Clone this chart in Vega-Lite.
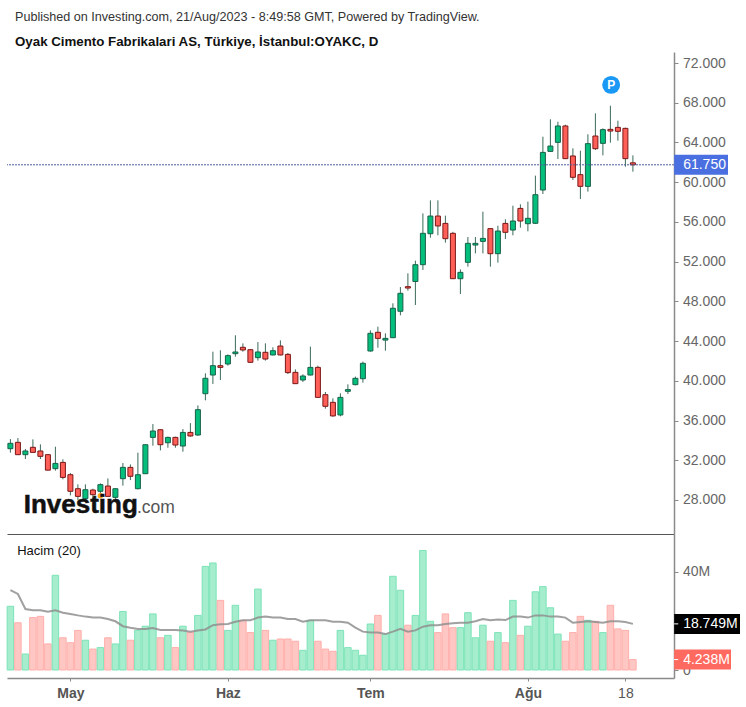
{"$schema":"https://vega.github.io/schema/vega-lite/v6.json","padding":{"left":6,"top":11,"right":5,"bottom":19},"background":"white","bounds":"flush","spacing":0,"config":{"view":{"stroke":null},"font":"Liberation Sans","axis":{"grid":false,"title":null}},
"datasets":{"bars":[
{"n":0,"o":33.16,"h":34.13,"l":32.76,"c":33.7,"v":25.9,"ma":32.5},
{"n":1,"o":33.8,"h":34.23,"l":32.52,"c":32.56,"v":19.2,"ma":30.9},
{"n":2,"o":32.56,"h":33.13,"l":32.12,"c":32.93,"v":6.5,"ma":24.8},
{"n":3,"o":33.3,"h":34.1,"l":32.76,"c":32.79,"v":21.3,"ma":24.3},
{"n":4,"o":32.93,"h":33.6,"l":32.12,"c":32.39,"v":21.8,"ma":24.3},
{"n":5,"o":32.56,"h":32.6,"l":30.98,"c":31,"v":10.6,"ma":23.7},
{"n":6,"o":31.15,"h":33.36,"l":30.95,"c":31.68,"v":38.5,"ma":24.3},
{"n":7,"o":31.78,"h":32.09,"l":30.07,"c":30.27,"v":13.1,"ma":23.3},
{"n":8,"o":30.54,"h":30.71,"l":28.46,"c":28.87,"v":11.1,"ma":22.8},
{"n":9,"o":29.13,"h":29.57,"l":28,"c":28.36,"v":16.1,"ma":22.2},
{"n":10,"o":28.13,"h":29.57,"l":27.9,"c":29.03,"v":12.1,"ma":21.7},
{"n":11,"o":29,"h":29.13,"l":28,"c":28.53,"v":8.5,"ma":21.3},
{"n":12,"o":28.87,"h":29.67,"l":28.5,"c":29.54,"v":9.1,"ma":21.3},
{"n":13,"o":29.4,"h":30.17,"l":28.3,"c":28.36,"v":13.1,"ma":20.7},
{"n":14,"o":28.26,"h":29.17,"l":28.1,"c":29.13,"v":10.6,"ma":19.8},
{"n":15,"o":30.14,"h":31.72,"l":29.44,"c":31.28,"v":23.8,"ma":17.8},
{"n":16,"o":31.28,"h":31.58,"l":30,"c":30.38,"v":12.1,"ma":17.2},
{"n":17,"o":29.13,"h":32.76,"l":29.07,"c":30.54,"v":16.1,"ma":16.7},
{"n":18,"o":30.64,"h":33.6,"l":30.61,"c":33.56,"v":17.8,"ma":16.7},
{"n":19,"o":34.3,"h":35.64,"l":33.46,"c":34.94,"v":22.8,"ma":17.1},
{"n":20,"o":35.07,"h":35.11,"l":32.99,"c":33.56,"v":13.1,"ma":16.3},
{"n":21,"o":33.76,"h":34.37,"l":33.26,"c":34.3,"v":14.1,"ma":16.3},
{"n":22,"o":34.3,"h":34.37,"l":33.26,"c":33.53,"v":9.1,"ma":16.3},
{"n":23,"o":33.43,"h":35.14,"l":32.86,"c":34.8,"v":17.8,"ma":16.1},
{"n":24,"o":34.8,"h":35.74,"l":34.37,"c":34.44,"v":15.2,"ma":15.6},
{"n":25,"o":34.54,"h":37.52,"l":34.44,"c":37.09,"v":22.2,"ma":16.1},
{"n":26,"o":38.7,"h":40.75,"l":38.03,"c":40.25,"v":42.1,"ma":16.5},
{"n":27,"o":40.58,"h":42.93,"l":39.68,"c":41.52,"v":43.5,"ma":18.2},
{"n":28,"o":41.52,"h":43.07,"l":40.08,"c":41.35,"v":28.3,"ma":18.6},
{"n":29,"o":41.69,"h":42.66,"l":41.52,"c":42.53,"v":16.1,"ma":18.7},
{"n":30,"o":42.73,"h":44.58,"l":42.43,"c":42.9,"v":26.3,"ma":19.6},
{"n":31,"o":43.37,"h":43.77,"l":42.93,"c":43.1,"v":20.2,"ma":20.2},
{"n":32,"o":43.13,"h":43.2,"l":41.82,"c":41.86,"v":15.2,"ma":20.2},
{"n":33,"o":42.33,"h":43.9,"l":42.03,"c":42.9,"v":32.9,"ma":21.3},
{"n":34,"o":42.87,"h":43.77,"l":42.03,"c":42.19,"v":16.1,"ma":21.7},
{"n":35,"o":42.6,"h":43.37,"l":42.56,"c":43.03,"v":12.1,"ma":21.3},
{"n":36,"o":43.5,"h":44.07,"l":42.56,"c":42.6,"v":12.6,"ma":21.3},
{"n":37,"o":42.66,"h":42.8,"l":40.68,"c":40.82,"v":12.6,"ma":20.7},
{"n":38,"o":40.85,"h":41.15,"l":39.68,"c":39.71,"v":11.7,"ma":20.7},
{"n":39,"o":40.08,"h":40.65,"l":39.88,"c":40.48,"v":8,"ma":19.6},
{"n":40,"o":40.58,"h":43.44,"l":40.55,"c":41.35,"v":20.2,"ma":20.2},
{"n":41,"o":41.35,"h":41.52,"l":38.3,"c":38.33,"v":11.7,"ma":20.2},
{"n":42,"o":38.6,"h":38.87,"l":37.19,"c":37.43,"v":8.5,"ma":20.2},
{"n":43,"o":37.83,"h":38.23,"l":36.39,"c":36.46,"v":7.6,"ma":19.6},
{"n":44,"o":36.56,"h":38.74,"l":36.42,"c":38.33,"v":16.1,"ma":19.6},
{"n":45,"o":38.94,"h":39.64,"l":38.67,"c":39.11,"v":9.1,"ma":19.2},
{"n":46,"o":39.61,"h":40.42,"l":39.54,"c":40.25,"v":8,"ma":17.2},
{"n":47,"o":40.21,"h":41.93,"l":39.81,"c":41.76,"v":6,"ma":15.6},
{"n":48,"o":43,"h":45.08,"l":42.93,"c":44.78,"v":18.7,"ma":15.2},
{"n":49,"o":44.88,"h":45.45,"l":43.33,"c":44.27,"v":22.2,"ma":15.2},
{"n":50,"o":44.1,"h":44.78,"l":43.03,"c":44.27,"v":14.6,"ma":14.6},
{"n":51,"o":44.34,"h":47.8,"l":44.3,"c":47.3,"v":38.1,"ma":15.6},
{"n":52,"o":47,"h":49.44,"l":46.59,"c":48.81,"v":32.4,"ma":16.7},
{"n":53,"o":49.48,"h":50.82,"l":49.08,"c":49.34,"v":18.2,"ma":15.6},
{"n":54,"o":50,"h":52.1,"l":47.63,"c":51.69,"v":22.2,"ma":16.1},
{"n":55,"o":51.69,"h":56.86,"l":51.16,"c":54.85,"v":48.6,"ma":17.6},
{"n":56,"o":54.81,"h":58.17,"l":54.41,"c":56.59,"v":19.8,"ma":18.2},
{"n":57,"o":56.59,"h":58.17,"l":54.65,"c":55.59,"v":15.2,"ma":18.2},
{"n":58,"o":55.85,"h":56.63,"l":53.91,"c":54.31,"v":22.8,"ma":18.7},
{"n":59,"o":54.85,"h":55,"l":50.25,"c":50.28,"v":17.2,"ma":19},
{"n":60,"o":50.28,"h":51.22,"l":48.74,"c":50.92,"v":17.2,"ma":19.2},
{"n":61,"o":51.93,"h":54.48,"l":51.49,"c":53.84,"v":23.3,"ma":19.2},
{"n":62,"o":53.67,"h":54.48,"l":52.83,"c":53.84,"v":13.1,"ma":19.8},
{"n":63,"o":54.04,"h":57.03,"l":52.83,"c":54.34,"v":18.2,"ma":20.7},
{"n":64,"o":55.32,"h":55.35,"l":51.49,"c":52.8,"v":11.7,"ma":20.2},
{"n":65,"o":52.8,"h":55.62,"l":51.9,"c":55.08,"v":15.2,"ma":20.5},
{"n":66,"o":55.85,"h":56.26,"l":54.28,"c":54.95,"v":11.1,"ma":20.3},
{"n":67,"o":55.18,"h":57.63,"l":54.65,"c":56.09,"v":28.3,"ma":21.7},
{"n":68,"o":57.36,"h":57.77,"l":55.42,"c":56.09,"v":14.1,"ma":21.7},
{"n":69,"o":55.82,"h":58.04,"l":55.05,"c":56.36,"v":17.8,"ma":21.3},
{"n":70,"o":55.86,"h":60.66,"l":55.79,"c":58.74,"v":31.8,"ma":22.2},
{"n":71,"o":59.21,"h":64.58,"l":58.81,"c":63,"v":33.9,"ma":22.2},
{"n":72,"o":63.1,"h":66.33,"l":63.07,"c":63.64,"v":25.3,"ma":21.7},
{"n":73,"o":64.01,"h":66.09,"l":62.33,"c":65.66,"v":14.6,"ma":21.7},
{"n":74,"o":65.66,"h":65.79,"l":62.33,"c":62.37,"v":11.7,"ma":21.3},
{"n":75,"o":62.64,"h":63.41,"l":60.22,"c":60.49,"v":15.2,"ma":19.2},
{"n":76,"o":60.76,"h":63.17,"l":58.31,"c":59.58,"v":21.8,"ma":19.5},
{"n":77,"o":59.58,"h":64.82,"l":59.05,"c":63.88,"v":20.2,"ma":19.8},
{"n":78,"o":64.65,"h":66.93,"l":63.24,"c":63.37,"v":19.8,"ma":19.5},
{"n":79,"o":63.91,"h":65.42,"l":62.7,"c":65.29,"v":15.2,"ma":19.2},
{"n":80,"o":65.32,"h":67.7,"l":63.98,"c":65.15,"v":26.3,"ma":19.8},
{"n":81,"o":65.52,"h":66.19,"l":64.18,"c":65.12,"v":16.7,"ma":19.8},
{"n":82,"o":65.42,"h":65.49,"l":61.56,"c":62.37,"v":16.1,"ma":19.5},
{"n":83,"o":61.95,"h":62.7,"l":61.06,"c":61.75,"v":4.238,"ma":18.749}
],
"one":[{"last":61.75,"ma":18.749,"vol":4.238,"pn":80.1,"pp":69.8,"en":12,"ep":28.43}]},
"vconcat":[
{"width":667,"height":482,"title":{"text":"Published on Investing.com, 21/Aug/2023 - 8:49:58 GMT, Powered by TradingView.","subtitle":"Oyak Cimento Fabrikalari AS, Türkiye, İstanbul:OYAKC, D","anchor":"start","frame":"group","dx":8,"fontSize":12.6,"fontWeight":"normal","color":"#333333","subtitleFontSize":13.3,"subtitleFontWeight":"bold","subtitleColor":"#111111","subtitlePadding":11,"offset":4},
"layer":[
{"data":{"name":"bars"},"mark":{"type":"rule","strokeWidth":1,"color":"#3c6b58"},"encoding":{"x":{"field":"n","type":"quantitative","scale":{"domain":[-0.453,88.48],"nice":false,"zero":false,"padding":0},"axis":{"orient":"bottom","labels":false,"ticks":false,"domain":true,"domainColor":"#555555","domainWidth":1}},"y":{"field":"l","type":"quantitative","scale":{"domain":[24.57,73.11],"nice":false,"zero":false},"axis":{"orient":"right","values":[28,32,36,40,44,48,52,56,60,64,68,72],"format":".3f","domainColor":"#8a8a8a","domainWidth":1.5,"tickColor":"#8a8a8a","tickSize":4,"labelColor":"#666666","labelFontSize":14,"labelPadding":4.5}},"y2":{"field":"h"}}},
{"data":{"name":"bars"},"mark":{"type":"bar","size":5,"strokeWidth":1},"encoding":{"x":{"field":"n","type":"quantitative"},"y":{"field":"o","type":"quantitative"},"y2":{"field":"c"},"fill":{"condition":{"test":"datum.c>=datum.o","value":"#04bf7c"},"value":"#ff5f57"},"stroke":{"condition":{"test":"datum.c>=datum.o","value":"#17604a"},"value":"#7a1717"}}},
{"data":{"name":"one"},"mark":{"type":"rule","strokeWidth":1,"strokeDash":[2,1],"color":"#4d5c9c"},"encoding":{"y":{"field":"last","type":"quantitative"}}},
{"data":{"name":"one"},"mark":{"type":"rule","strokeWidth":20,"color":"#4a6fe0"},"encoding":{"x":{"datum":88.5},"x2":{"datum":95.68},"y":{"field":"last","type":"quantitative"}}},
{"data":{"name":"one"},"mark":{"type":"text","align":"left","baseline":"middle","fontSize":14,"color":"#ffffff"},"encoding":{"x":{"datum":89.7},"y":{"field":"last","type":"quantitative"},"text":{"field":"last","type":"quantitative","format":".3f"}}},
{"data":{"name":"one"},"mark":{"type":"point","filled":true,"opacity":1,"size":320,"color":"#1a98f5"},"encoding":{"x":{"field":"pn","type":"quantitative"},"y":{"field":"pp","type":"quantitative"}}},
{"data":{"name":"one"},"mark":{"type":"text","text":"P","fontSize":12,"fontWeight":"bold","color":"#ffffff","baseline":"middle"},"encoding":{"x":{"field":"pn","type":"quantitative"},"y":{"field":"pp","type":"quantitative"}}},
{"data":{"name":"one"},"mark":{"type":"point","filled":true,"opacity":1,"size":30,"color":"#f7a823"},"encoding":{"x":{"field":"en","type":"quantitative"},"y":{"field":"ep","type":"quantitative"}}},
{"data":{"name":"one"},"mark":{"type":"text","text":"Investing","align":"left","baseline":"alphabetic","fontSize":26,"fontWeight":"bold","color":"#111111","stroke":"#111111","strokeWidth":0.5},"encoding":{"x":{"datum":1.77},"y":{"datum":26.68}}},
{"data":{"name":"one"},"mark":{"type":"text","text":".com","align":"left","baseline":"alphabetic","fontSize":17.5,"color":"#555555"},"encoding":{"x":{"datum":16.87},"y":{"datum":26.68}}}
]},
{"width":667,"height":144,
"layer":[
{"data":{"name":"bars"},"mark":{"type":"bar","size":6.5,"strokeWidth":1},"encoding":{"x":{"field":"n","type":"quantitative","scale":{"domain":[-0.453,88.48],"nice":false,"zero":false,"padding":0},"axis":{"orient":"bottom","values":[8,29,48,69,82],"labelExpr":"datum.value==8?'May':datum.value==29?'Haz':datum.value==48?'Tem':datum.value==69?'Ağu':'18'","labelFontWeight":{"condition":{"test":"datum.value==82","value":"normal"},"value":"bold"},"labelFontSize":14,"labelColor":"#555555","domainColor":"#8a8a8a","domainWidth":1.5,"tickColor":"#8a8a8a","tickSize":3,"labelPadding":5,"labelFlush":false}},"y":{"field":"v","type":"quantitative","scale":{"domain":[-3.25,55.28],"nice":false,"zero":false},"axis":{"orient":"right","values":[0,40],"labelExpr":"datum.value==0?'0':datum.value+'M'","domainColor":"#8a8a8a","domainWidth":1.5,"tickColor":"#8a8a8a","tickSize":4,"labelColor":"#666666","labelFontSize":14,"labelPadding":4.5}},"y2":{"datum":0},"fill":{"condition":{"test":"datum.c>=datum.o","value":"#a6edcd"},"value":"#ffc7c3"},"stroke":{"condition":{"test":"datum.c>=datum.o","value":"#7ce3b8"},"value":"#ffaeaa"}}},
{"data":{"name":"bars"},"mark":{"type":"line","strokeWidth":2,"color":"#8f8f8f","opacity":0.85,"interpolate":"linear"},"encoding":{"x":{"field":"n","type":"quantitative"},"y":{"field":"ma","type":"quantitative"}}},
{"data":{"name":"one"},"mark":{"type":"rule","strokeWidth":20,"color":"#000000"},"encoding":{"x":{"datum":88.5},"x2":{"datum":97.28},"y":{"field":"ma","type":"quantitative"}}},
{"data":{"name":"one"},"mark":{"type":"text","text":"18.749M","align":"left","baseline":"middle","fontSize":14,"color":"#ffffff"},"encoding":{"x":{"datum":89.7},"y":{"field":"ma","type":"quantitative"}}},
{"data":{"name":"one"},"mark":{"type":"rule","strokeWidth":20,"color":"#ff6a60"},"encoding":{"x":{"datum":88.5},"x2":{"datum":96.08},"y":{"field":"vol","type":"quantitative"}}},
{"data":{"name":"one"},"mark":{"type":"text","text":"4.238M","align":"left","baseline":"middle","fontSize":14,"color":"#ffffff"},"encoding":{"x":{"datum":89.7},"y":{"field":"vol","type":"quantitative"}}},
{"data":{"name":"one"},"mark":{"type":"rule","strokeWidth":1,"color":"#ffffff"},"encoding":{"x":{"datum":88.5},"x2":{"datum":89.05},"y":{"field":"ma","type":"quantitative"}}},
{"data":{"name":"one"},"mark":{"type":"rule","strokeWidth":1,"color":"#ffffff"},"encoding":{"x":{"datum":88.5},"x2":{"datum":89.05},"y":{"field":"vol","type":"quantitative"}}},
{"data":{"name":"one"},"mark":{"type":"text","text":"Hacim (20)","align":"left","baseline":"alphabetic","fontSize":13,"color":"#111111"},"encoding":{"x":{"datum":0.9},"y":{"datum":46.6}}}
]}
]}
